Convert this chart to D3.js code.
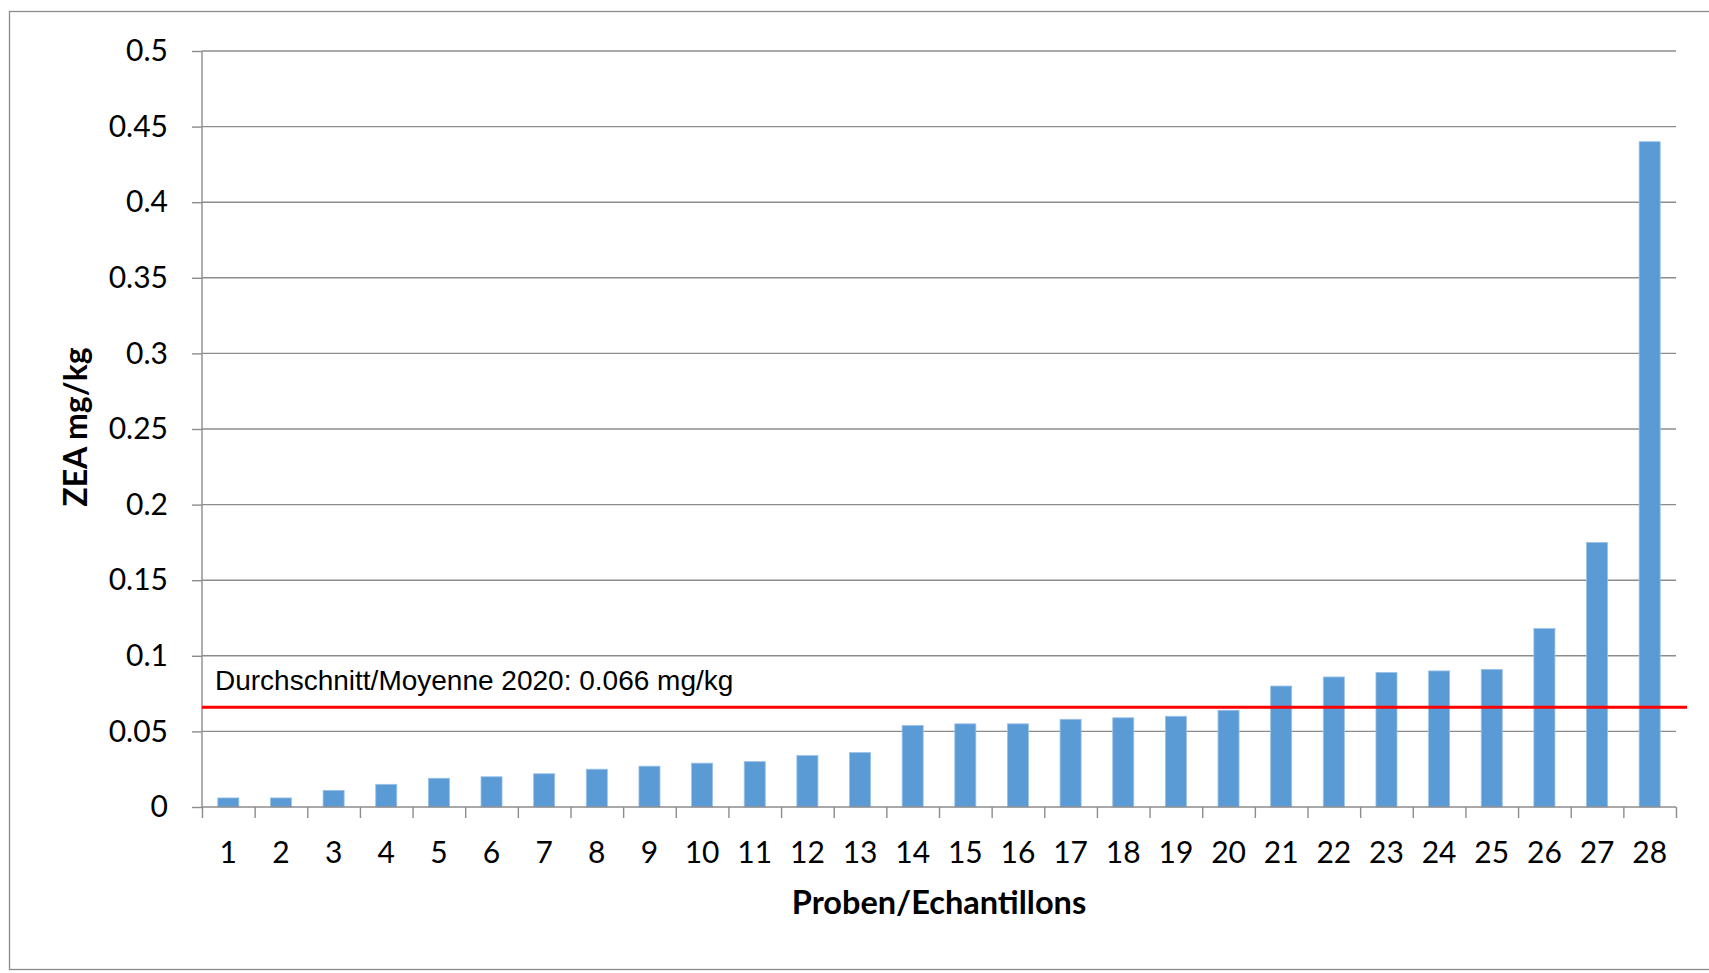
<!DOCTYPE html>
<html>
<head>
<meta charset="utf-8">
<script src="https://cdn.jsdelivr.net/npm/d3@7"></script>
<style>
  html, body { margin: 0; padding: 0; background: #fff; }
  svg { display: block; }
</style>
</head>
<body>
<svg id="chart" width="1709" height="973"></svg>
<script>
// ---- data ----
const categories = ["1","2","3","4","5","6","7","8","9","10","11","12","13","14","15","16","17","18","19","20","21","22","23","24","25","26","27","28"];
const values = [0.006,0.006,0.011,0.015,0.019,0.020,0.022,0.025,0.027,0.029,0.030,0.034,0.036,0.054,0.055,0.055,0.058,0.059,0.060,0.064,0.080,0.086,0.089,0.090,0.091,0.118,0.175,0.440];
const yTickValues = [0,0.05,0.1,0.15,0.2,0.25,0.3,0.35,0.4,0.45,0.5];
const yTickLabels = ["0","0.05","0.1","0.15","0.2","0.25","0.3","0.35","0.4","0.45","0.5"];
const meanValue = 0.066;
const meanLabel = "Durchschnitt/Moyenne 2020: 0.066 mg/kg";
const xTitle = "Proben/Echantillons";
const yTitle = "ZEA mg/kg";

// ---- layout ----
const plot = { left: 202, right: 1676, top: 51, bottom: 807 };
const svg = d3.select("#chart");
const gridColor = "#8c8c8c";
const calibri = "Lato, 'Open Sans', sans-serif";

// outer border
svg.append("rect")
  .attr("x", 9.5).attr("y", 11.5).attr("width", 1710).attr("height", 958)
  .attr("fill", "none").attr("stroke", "#8a8a8a").attr("stroke-width", 1.3);

const x = d3.scaleBand().domain(categories).range([plot.left, plot.right])
  .paddingInner(0.6).paddingOuter(0.3);
const xEdges = d3.scaleLinear().domain([0, categories.length]).range([plot.left, plot.right]);
const y = d3.scaleLinear().domain([0, 0.5]).range([plot.bottom, plot.top]);

// gridlines
svg.append("g")
  .selectAll("line").data(yTickValues.filter(v => v > 0)).join("line")
  .attr("x1", plot.left).attr("x2", plot.right)
  .attr("y1", d => y(d)).attr("y2", d => y(d))
  .attr("stroke", gridColor).attr("stroke-width", 1.4);

// y axis
const yAxis = d3.axisLeft(y).tickValues(yTickValues)
  .tickFormat((d, i) => yTickLabels[i]).tickSize(10).tickPadding(24);
const gy = svg.append("g").attr("transform", `translate(${plot.left},0)`).call(yAxis);
gy.select(".domain").attr("stroke", gridColor).attr("stroke-width", 1.4).attr("d", `M0,${plot.top}V${plot.bottom}`);
gy.selectAll(".tick line").attr("stroke", gridColor).attr("stroke-width", 1.4);
gy.selectAll(".tick text").attr("font-family", calibri).attr("font-size", 30).attr("fill", "#000");

// bars
svg.append("g").selectAll("rect").data(values).join("rect")
  .attr("x", (d, i) => x(categories[i]))
  .attr("width", x.bandwidth())
  .attr("y", d => y(d))
  .attr("height", d => y(0) - y(d))
  .attr("fill", "#5b9bd5")
  .attr("stroke", "#9cc2e8").attr("stroke-width", 0.8);

// x axis: boundary ticks
const xTickAxis = d3.axisBottom(xEdges).tickValues(d3.range(0, categories.length + 1))
  .tickFormat("").tickSize(11);
const gxt = svg.append("g").attr("transform", `translate(0,${plot.bottom})`).call(xTickAxis);
gxt.select(".domain").attr("stroke", gridColor).attr("stroke-width", 1.4).attr("d", `M${plot.left},0H${plot.right}`);
gxt.selectAll(".tick line").attr("stroke", gridColor).attr("stroke-width", 1.4);

// x axis: labels
const xAxis = d3.axisBottom(x).tickSize(0);
const gx = svg.append("g").attr("transform", `translate(0,${plot.bottom})`).call(xAxis);
gx.select(".domain").remove();
gx.selectAll(".tick text").attr("font-family", calibri).attr("font-size", 30)
  .attr("fill", "#000").attr("y", 56).attr("dy", 0);

// mean line
svg.append("line")
  .attr("x1", plot.left).attr("x2", 1687)
  .attr("y1", y(meanValue)).attr("y2", y(meanValue))
  .attr("stroke", "#ff0000").attr("stroke-width", 3);
svg.append("text")
  .attr("x", 215).attr("y", 690)
  .attr("font-family", "'Liberation Sans', Arial, sans-serif").attr("font-size", 28)
  .attr("fill", "#000").text(meanLabel);

// axis titles
svg.append("text")
  .attr("x", (plot.left + plot.right) / 2).attr("y", 914)
  .attr("text-anchor", "middle").attr("font-family", calibri).attr("font-weight", "bold")
  .attr("font-size", 32.5).attr("fill", "#000").text(xTitle);
svg.append("text")
  .attr("transform", `translate(87,${(plot.top + plot.bottom) / 2 - 2}) rotate(-90)`)
  .attr("text-anchor", "middle").attr("font-family", calibri).attr("font-weight", "bold")
  .attr("font-size", 32).attr("fill", "#000").text(yTitle);
</script>
</body>
</html>
